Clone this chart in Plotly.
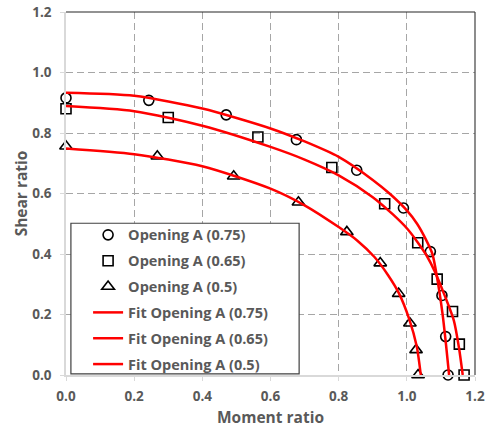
import plotly.graph_objects as go

# ---------------- data ----------------
# Test points (Moment ratio, Shear ratio)
m_075 = [0.0, 0.243, 0.470, 0.676, 0.853, 0.990, 1.069, 1.103, 1.114, 1.121]
v_075 = [0.916, 0.908, 0.860, 0.778, 0.677, 0.552, 0.408, 0.263, 0.127, 0.0]

m_065 = [0.0, 0.300, 0.563, 0.780, 0.935, 1.032, 1.089, 1.134, 1.154, 1.168]
v_065 = [0.880, 0.851, 0.787, 0.686, 0.566, 0.437, 0.317, 0.210, 0.102, 0.0]

m_05 = [0.0, 0.268, 0.492, 0.682, 0.824, 0.922, 0.976, 1.009, 1.027, 1.033]
v_05 = [0.756, 0.723, 0.657, 0.571, 0.473, 0.370, 0.269, 0.171, 0.083, 0.0]

# Fit curves
fit_m_075 = [0.0, 0.2, 0.4, 0.6, 0.7, 0.8, 0.9, 0.95, 1.0, 1.03, 1.055, 1.075, 1.092, 1.105, 1.115, 1.124]
fit_v_075 = [0.933, 0.923, 0.881, 0.815, 0.772, 0.721, 0.645, 0.599, 0.544, 0.500, 0.450, 0.400, 0.300, 0.200, 0.100, 0.0]

fit_m_065 = [0.0, 0.2, 0.4, 0.6, 0.7, 0.8, 0.9, 0.96, 1.0, 1.031, 1.058, 1.083, 1.112, 1.138, 1.153, 1.164]
fit_v_065 = [0.889, 0.872, 0.824, 0.754, 0.712, 0.660, 0.588, 0.530, 0.485, 0.440, 0.395, 0.340, 0.260, 0.180, 0.090, 0.0]

fit_m_05 = [0.0, 0.2, 0.4, 0.6, 0.7, 0.8, 0.855, 0.905, 0.945, 0.977, 1.007, 1.029, 1.041]
fit_v_05 = [0.749, 0.730, 0.690, 0.616, 0.561, 0.489, 0.444, 0.390, 0.330, 0.270, 0.185, 0.095, 0.0]

names = ["Opening A (0.75)", "Opening A (0.65)", "Opening A (0.5)"]
fit_names = ["Fit Opening A (0.75)", "Fit Opening A (0.65)", "Fit Opening A (0.5)"]

x_ticks = [0.0, 0.2, 0.4, 0.6, 0.8, 1.0, 1.2]
y_ticks = [0.0, 0.2, 0.4, 0.6, 0.8, 1.0, 1.2]

# ---------------- figure ----------------
GRAY_TXT = "#595959"
FONT = "Open Sans"

fig = go.Figure()

symbols = ["circle-open", "square-open", "triangle-up-open"]
sizes = [10, 10, 11]
for i, (mx, vy) in enumerate([(m_075, v_075), (m_065, v_065), (m_05, v_05)]):
    fig.add_trace(go.Scatter(
        x=mx, y=vy, mode="markers", name=names[i],
        legendgroup=f"g{i}",
        marker=dict(symbol=symbols[i], size=sizes[i], color="black",
                    line=dict(color="black", width=1.6)),
        cliponaxis=False,
    ))

for i, (mx, vy) in enumerate([(fit_m_075, fit_v_075), (fit_m_065, fit_v_065), (fit_m_05, fit_v_05)]):
    fig.add_trace(go.Scatter(
        x=mx, y=vy, mode="lines", name=fit_names[i],
        legendgroup=f"f{i}",
        line=dict(color="#FF0000", width=2.5, shape="spline", smoothing=0.7),
        cliponaxis=False,
    ))

axis_common = dict(
    showgrid=True, gridcolor="#A6A6A6", gridwidth=1, griddash="7px,4px",
    zeroline=False, showline=True, linecolor="#D9D9D9", linewidth=1.5,
    ticks="outside", ticklen=4, tickcolor="#D9D9D9",
    tickfont=dict(family=FONT, size=13.5, color=GRAY_TXT, weight="bold"),
    tickformat=".1f",
    range=[0, 1.2],
    automargin=False,
)

fig.update_xaxes(**axis_common, tickvals=x_ticks,
                 title=dict(text="Moment ratio", standoff=8,
                            font=dict(family=FONT, size=15.5, color=GRAY_TXT, weight="bold")),
                 ticklabelstandoff=4)
fig.update_yaxes(**axis_common, tickvals=y_ticks,
                 title=dict(text="Shear ratio", standoff=0,
                            font=dict(family=FONT, size=15.5, color=GRAY_TXT, weight="bold")),
                 ticklabelstandoff=6)

# plot border (top / right) and legend box
fig.add_shape(type="line", xref="paper", yref="paper", x0=0, x1=1, y0=1, y1=1,
              line=dict(color="#262626", width=1.2), layer="above")
fig.add_shape(type="line", xref="paper", yref="paper", x0=1, x1=1, y0=0, y1=1,
              line=dict(color="#404040", width=1.2), layer="above")
fig.add_shape(type="rect", xref="paper", yref="paper", x0=0.012, x1=0.570, y0=0.003, y1=0.418,
              line=dict(color="#404040", width=1.2), fillcolor="white", layer="above")

fig.update_layout(
    width=486, height=432,
    margin=dict(l=66, r=11, t=12, b=57),
    plot_bgcolor="white", paper_bgcolor="white",
    showlegend=True,
    legend=dict(
        x=0.054, y=0.430, xanchor="left", yanchor="top",
        bgcolor="rgba(0,0,0,0)", borderwidth=0,
        tracegroupgap=4, itemwidth=30,
        font=dict(family=FONT, size=14.5, color=GRAY_TXT, weight="bold"),
    ),
)

fig.write_html("out.html")
